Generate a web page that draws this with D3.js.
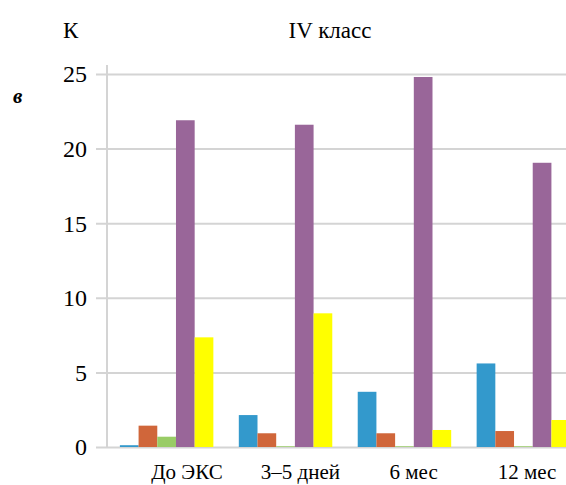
<!DOCTYPE html>
<html><head><meta charset="utf-8">
<script src="https://cdn.jsdelivr.net/npm/d3@7"></script>
<style>body{margin:0;background:#fff}svg{display:block}
svg#c text{font-family:"Liberation Serif","Times New Roman",Tinos,serif !important;}</style>
</head><body>
<svg id="c" width="566" height="485"></svg>
<script>
const categories = ["До ЭКС", "3–5 дней", "6 мес", "12 мес"];
const seriesNames = ["Ряд 1", "Ряд 2", "Ряд 3", "Ряд 4", "Ряд 5"];
const series1 = [0.12, 2.14, 3.7, 5.6];
const series2 = [1.43, 0.92, 0.92, 1.07];
const series3 = [0.69, 0.05, 0.05, 0.05];
const series4 = [21.9, 21.6, 24.8, 19.05];
const series5 = [7.35, 8.96, 1.14, 1.81];
const yTicks = [0, 5, 10, 15, 20, 25];
const colors = ["#3399cc", "#d0663a", "#99cc66", "#996699", "#ffff00"];

const allSeries = [series1, series2, series3, series4, series5];
const svg = d3.select("#c");

const y = d3.scaleLinear().domain([0, 25]).range([447, 74]);
const x0 = d3.scaleBand().domain(categories).range([108, 582]).paddingInner(0.214).paddingOuter(0.1);
const x1 = d3.scaleBand().domain(d3.range(seriesNames.length)).range([0, x0.bandwidth()]);
const xl = d3.scalePoint().domain(categories).range([187, 527]);

// gridlines + ticks
svg.append("g").attr("transform", "translate(108,0)")
  .call(d3.axisLeft(y).tickValues(yTicks).tickSize(12).tickFormat(""))
  .call(g => g.select(".domain").remove())
  .call(g => g.selectAll(".tick line").attr("x2", 566 - 108).attr("x1", -12)
    .attr("stroke", "#d4d4d4").attr("stroke-width", 2));

// vertical axis line
svg.append("line").attr("x1", 107).attr("x2", 107).attr("y1", 65).attr("y2", y(0))
  .attr("stroke", "#d4d4d4").attr("stroke-width", 2);

// tick labels
svg.append("g").selectAll("text").data(yTicks).join("text")
  .attr("x", 87).attr("y", d => y(d)).attr("dy", "0.35em")
  .attr("text-anchor", "end").attr("font-size", 24).attr("fill", "#000").text(d => d);

// bars
const groups = svg.append("g").selectAll("g").data(categories).join("g")
  .attr("transform", c => `translate(${x0(c)},0)`);
groups.selectAll("rect").data((c, ci) => allSeries.map((s, si) => ({si, v: s[ci]}))).join("rect")
  .attr("x", d => x1(d.si)).attr("width", x1.bandwidth())
  .attr("y", d => y(d.v)).attr("height", d => y(0) - y(d.v))
  .attr("fill", d => colors[d.si]);

// category labels
svg.append("g").selectAll("text").data(categories).join("text")
  .attr("x", d => xl(d)).attr("y", 479).attr("text-anchor", "middle")
  .attr("font-size", 21).attr("fill", "#000").text(d => d);

// titles
svg.append("text").attr("x", 63).attr("y", 38).attr("font-size", 23).text("К");
svg.append("text").attr("x", 330).attr("y", 38).attr("text-anchor", "middle")
  .attr("font-size", 23).text("IV класс");
svg.append("text").attr("x", 13).attr("y", 103)
  .attr("font-style", "italic").attr("font-weight", "bold").attr("font-size", 21).text("в");
</script>
</body></html>
